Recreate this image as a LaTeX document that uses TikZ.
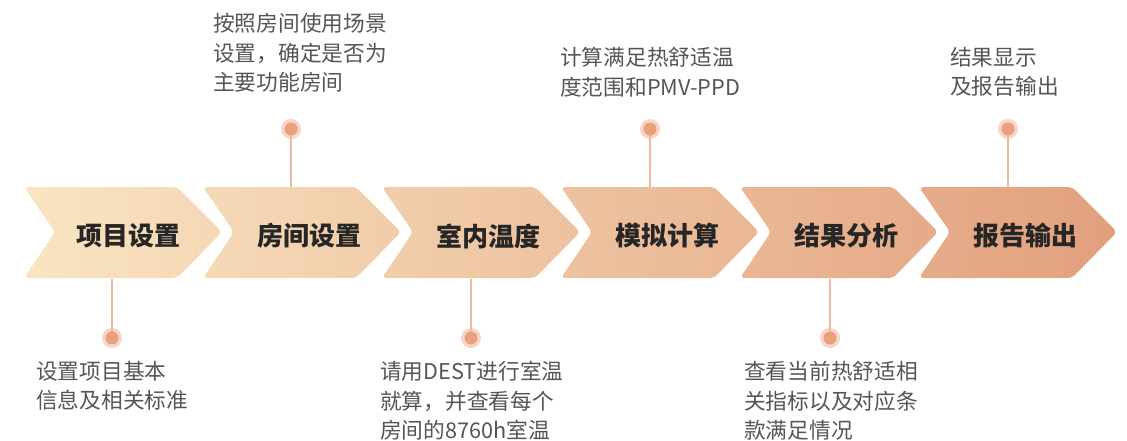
\documentclass[tikz,border=0pt]{standalone}
\usepackage{fontspec}
\newfontfamily\cjk{Noto Sans CJK SC}
\definecolor{cA}{RGB}{249,228,194}
\definecolor{cB}{RGB}{226,160,125}
\definecolor{linec}{RGB}{237,187,160}
\definecolor{dotin}{RGB}{232,160,125}
\definecolor{dotout}{RGB}{247,214,198}
\definecolor{labtxt}{RGB}{38,38,38}
\definecolor{bodytxt}{RGB}{85,85,85}
\newcommand\mychev[3]{%
  \path[rounded corners=4pt, left color=cB!#2!cA, right color=cB!#3!cA]
    (#1,187) -- ++(153,0) -- ++(45,45) -- ++(-45,46) -- ++(-153,0) -- ++(31,-46) -- cycle;}
\tikzset{
  steplabel/.style={font=\cjk\bfseries\fontsize{26}{30}\selectfont, text=labtxt, inner sep=0pt},
  bodytext/.style={font=\cjk\fontsize{21.7}{29.5}\selectfont, text=bodytxt, align=left, anchor=north west, inner sep=0pt},
  halo/.style={circle, fill=dotout, minimum size=20pt, inner sep=0pt},
  dotc/.style={circle, fill=dotin, minimum size=13pt, inner sep=0pt},
  callout/.style={draw=linec, line width=1.5pt},
}
\begin{document}
\begin{tikzpicture}[x=1pt, y=-1pt]
\useasboundingbox (0,0) rectangle (1127,440);
% chevrons
\mychev{24}{0}{18}
\mychev{203}{16}{35}
\mychev{382}{33}{51}
\mychev{561}{49}{67}
\mychev{740}{66}{84}
\mychev{919}{82}{100}
% labels
\node[steplabel] (c1) at (128,236) {项目设置};
\node[steplabel] (c2) at (309,236) {房间设置};
\node[steplabel] (c3) at (488,236) {室内温度};
\node[steplabel] (c4) at (667,236) {模拟计算};
\node[steplabel] (c5) at (846,236) {结果分析};
\node[steplabel] (c6) at (1025,236) {报告输出};
% connection points on chevron edges
\coordinate (e1) at (112,279);
\coordinate (e2) at (291,187);
\coordinate (e3) at (471,279);
\coordinate (e4) at (650,187);
\coordinate (e5) at (830,279);
\coordinate (e6) at (1008,187);
% dots
\node[halo] (h1) at (112,338) {};
\node[halo] (h2) at (291,129) {};
\node[halo] (h3) at (471,338) {};
\node[halo] (h4) at (650,129) {};
\node[halo] (h5) at (830,338) {};
\node[halo] (h6) at (1008,129) {};
\draw[callout] (h1.center) -- (e1);
\draw[callout] (h2.center) -- (e2);
\draw[callout] (h3.center) -- (e3);
\draw[callout] (h4.center) -- (e4);
\draw[callout] (h5.center) -- (e5);
\draw[callout] (h6.center) -- (e6);
\node[dotc] (d1) at (h1) {};
\node[dotc] (d2) at (h2) {};
\node[dotc] (d3) at (h3) {};
\node[dotc] (d4) at (h4) {};
\node[dotc] (d5) at (h5) {};
\node[dotc] (d6) at (h6) {};
% texts
\node[bodytext] (t2) at (213,13) {按照房间使用场景\\设置，确定是否为\\主要功能房间};
\node[bodytext] (t4) at (560,47) {计算满足热舒适温\\度范围和PMV-PPD};
\node[bodytext] (t6) at (950,47) {结果显示\\及报告输出};
\node[bodytext] (t1) at (36,361) {设置项目基本\\信息及相关标准};
\node[bodytext] (t3) at (380,361) {请用DEST进行室温\\就算，并查看每个\\房间的8760h室温};
\node[bodytext] (t5) at (744,361) {查看当前热舒适相\\关指标以及对应条\\款满足情况};
\end{tikzpicture}
\end{document}
